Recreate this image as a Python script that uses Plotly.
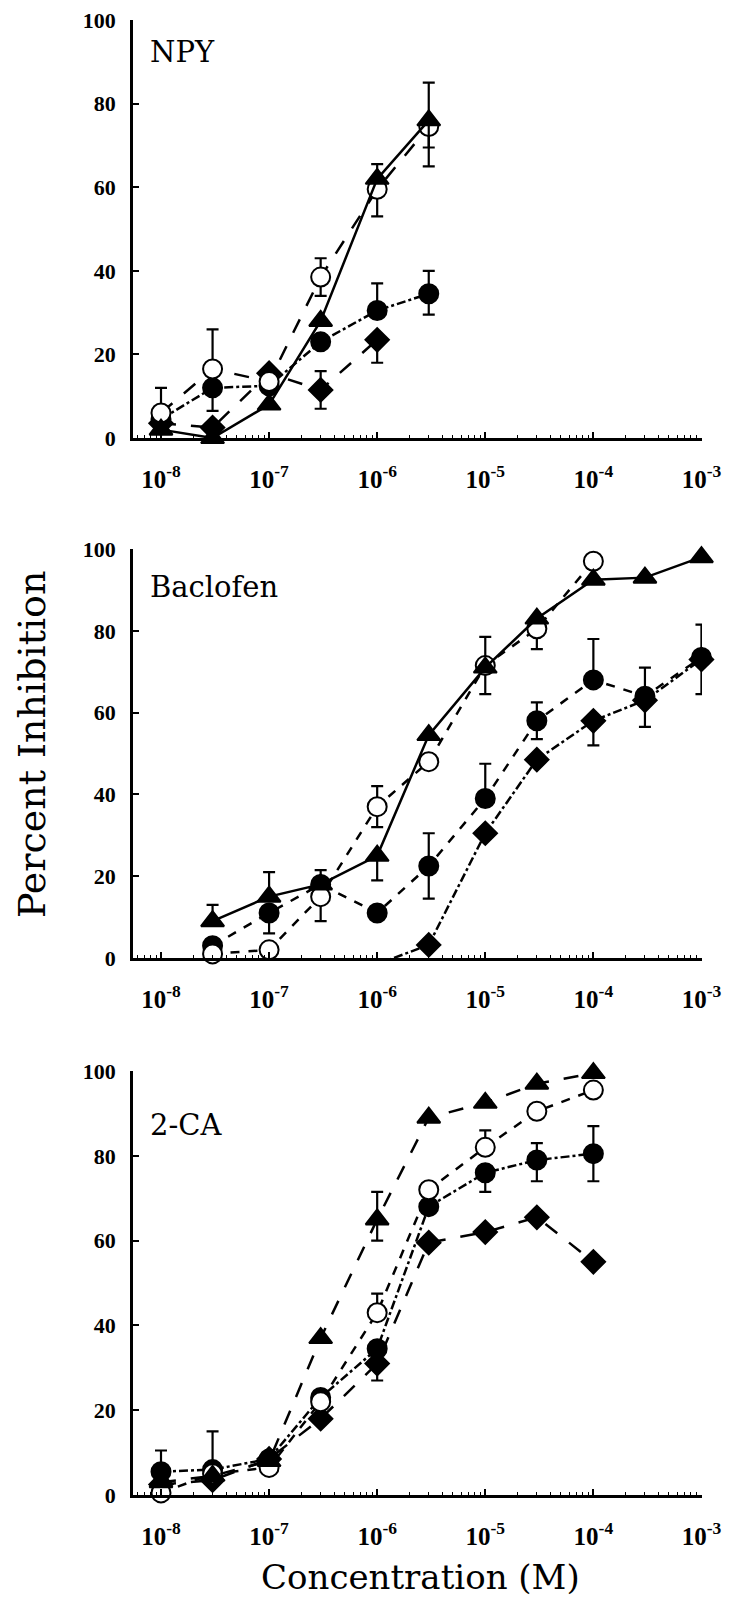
import plotly.graph_objects as go

# ---------------- data ----------------
# Panel 1: NPY
npy_conc = [1e-8, 3e-8, 1e-7, 3e-7, 1e-6, 3e-6]
npy_tri = [2, 0, 8, 28, 62, 76]
npy_tri_up = [0, 0, 0, 0, 3.5, 9]
npy_tri_dn = [0, 0, 0, 0, 0, 11]
npy_open = [6, 16.5, 13.5, 38.5, 59.5, 74.5]
npy_open_up = [6, 9.5, 0, 4.5, 0, 0]
npy_open_dn = [0, 0, 0, 4.5, 6.5, 5]
npy_fill = [4.5, 12, 12.5, 23, 30.5, 34.5]
npy_fill_up = [0, 0, 0, 0, 6.5, 5.5]
npy_fill_dn = [0, 5.5, 0, 0, 0, 5]
npy_diam_conc = [1e-8, 3e-8, 1e-7, 3e-7, 1e-6]
npy_diam = [3.5, 2.5, 15.5, 11.5, 23.5]
npy_diam_up = [0, 0, 0, 4.5, 0]
npy_diam_dn = [0, 0, 0, 4.5, 5.5]

# Panel 2: Baclofen
bac_conc = [3e-8, 1e-7, 3e-7, 1e-6, 3e-6, 1e-5, 3e-5, 1e-4, 3e-4, 1e-3]
bac_tri = [9, 15, 18, 25, 54.5, 71, 83, 92.5, 93, 98]
bac_tri_up = [4, 6, 0, 0, 0, 0, 0, 0, 0, 0]
bac_tri_dn = [0, 0, 0, 6, 0, 0, 0, 0, 0, 0]
bac_open_conc = [3e-8, 1e-7, 3e-7, 1e-6, 3e-6, 1e-5, 3e-5, 1e-4]
bac_open = [1, 2, 15, 37, 48, 71.5, 80.5, 97]
bac_open_up = [0, 0, 0, 5, 0, 7, 0, 0]
bac_open_dn = [0, 0, 6, 5, 0, 7, 5, 0]
bac_fill = [3, 11, 18, 11, 22.5, 39, 58, 68, 64, 73.5]
bac_fill_up = [0, 0, 3.5, 0, 8, 8.5, 4.5, 10, 7, 8]
bac_fill_dn = [0, 5, 0, 0, 8, 0, 4.5, 0, 7.5, 9]
bac_diam_conc = [1e-6, 3e-6, 1e-5, 3e-5, 1e-4, 3e-4, 1e-3]
bac_diam = [-1.5, 3.2, 30.5, 48.5, 58, 63, 73]
bac_diam_up = [0, 0, 0, 0, 0, 0, 0]
bac_diam_dn = [0, 0, 0, 0, 6, 0, 0]

# Panel 3: 2-CA
ca_conc = [1e-8, 3e-8, 1e-7, 3e-7, 1e-6, 3e-6, 1e-5, 3e-5, 1e-4]
ca_tri = [3, 4.5, 8, 37, 65, 89, 92.5, 97, 99.5]
ca_tri_up = [0, 0, 0, 0, 6.5, 0, 0, 0, 0]
ca_tri_dn = [0, 0, 0, 0, 5, 0, 0, 0, 0]
ca_open = [0.5, 5, 6.5, 22, 43, 72, 82, 90.5, 95.5]
ca_open_up = [0, 0, 0, 0, 4.5, 0, 4, 0, 0]
ca_open_dn = [0, 0, 0, 0, 0, 0, 0, 0, 0]
ca_fill = [5.5, 6, 8.5, 23, 34.5, 68, 76, 79, 80.5]
ca_fill_up = [5, 9, 0, 0, 0, 0, 0, 4, 6.5]
ca_fill_dn = [0, 0, 0, 0, 0, 0, 4.5, 5, 6.5]
ca_diam = [2.5, 3.5, 8.5, 18, 31, 59.5, 62, 65.5, 55]
ca_diam_up = [0, 0, 0, 0, 0, 0, 0, 0, 0]
ca_diam_dn = [0, 0, 0, 0, 4, 0, 0, 0, 0]

panel_names = ["NPY", "Baclofen", "2-CA"]
decade_vals = [1e-8, 1e-7, 1e-6, 1e-5, 1e-4, 1e-3]
decade_text = ["<b>10<sup>-8</sup></b>", "<b>10<sup>-7</sup></b>", "<b>10<sup>-6</sup></b>",
               "<b>10<sup>-5</sup></b>", "<b>10<sup>-4</sup></b>", "<b>10<sup>-3</sup></b>"]
y_ticks = [0, 20, 40, 60, 80, 100]
y_text = ["<b>0</b>", "<b>20</b>", "<b>40</b>", "<b>60</b>", "<b>80</b>", "<b>100</b>"]

# ---------------- figure ----------------
W, H = 730, 1602
SERIF = "DejaVu Serif"
TICKFONT = "Liberation Serif"
fig = go.Figure()

# pixel geometry of each panel (top of axis, bottom of axis)
panel_px = [(12, 430), (541, 950), (1063, 1487)]
x_px = (125, 694)


def add_series(n, xs, ys, up, dn, symbol, fill, dash, size):
    xa = "x" if n == 1 else f"x{n}"
    ya = "y" if n == 1 else f"y{n}"
    fig.add_trace(go.Scatter(
        x=xs, y=ys, mode="lines", xaxis=xa, yaxis=ya, cliponaxis=True,
        line=dict(color="black", width=2.5, dash=dash), hoverinfo="skip"))
    ym = [v if v >= 0 else None for v in ys]
    fig.add_trace(go.Scatter(
        x=xs, y=ym, mode="markers", xaxis=xa, yaxis=ya, cliponaxis=False,
        marker=dict(symbol=symbol, size=size, color=fill,
                    line=dict(color="black", width=2)),
        error_y=dict(type="data", symmetric=False, array=up, arrayminus=dn,
                     color="black", thickness=2.2, width=6)))


# Panel 1
add_series(1, npy_diam_conc, npy_diam, npy_diam_up, npy_diam_dn, "diamond", "black", "longdash", 18)
add_series(1, npy_conc, npy_fill, npy_fill_up, npy_fill_dn, "circle", "black", "dashdot", 19)
add_series(1, npy_conc, npy_open, npy_open_up, npy_open_dn, "circle", "white", "longdash", 19)
add_series(1, npy_conc, npy_tri, npy_tri_up, npy_tri_dn, "triangle-up", "black", "solid", 20)

# Panel 2
add_series(2, bac_diam_conc, bac_diam, bac_diam_up, bac_diam_dn, "diamond", "black", "dashdot", 18)
add_series(2, bac_conc, bac_fill, bac_fill_up, bac_fill_dn, "circle", "black", "dash", 19)
add_series(2, bac_open_conc, bac_open, bac_open_up, bac_open_dn, "circle", "white", "dash", 19)
add_series(2, bac_conc, bac_tri, bac_tri_up, bac_tri_dn, "triangle-up", "black", "solid", 20)

# Panel 3
add_series(3, ca_conc, ca_diam, ca_diam_up, ca_diam_dn, "diamond", "black", "longdash", 18)
add_series(3, ca_conc, ca_fill, ca_fill_up, ca_fill_dn, "circle", "black", "dashdot", 19)
add_series(3, ca_conc, ca_open, ca_open_up, ca_open_dn, "circle", "white", "dash", 19)
add_series(3, ca_conc, ca_tri, ca_tri_up, ca_tri_dn, "triangle-up", "black", "longdash", 20)

minor_vals = [k * 10.0 ** e for e in range(-9, -2) for k in range(2, 10)]

xdom = [x_px[0] / W, x_px[1] / W]
layout = dict(width=W, height=H, margin=dict(l=0, r=0, t=0, b=0),
              paper_bgcolor="white", plot_bgcolor="rgba(0,0,0,0)",
              showlegend=False, font=dict(family=SERIF, color="black", size=21))

for i, (top, bot) in enumerate(panel_px, start=1):
    xs = "xaxis" if i == 1 else f"xaxis{i}"
    ys = "yaxis" if i == 1 else f"yaxis{i}"
    ydom = [1 - bot / H, 1 - top / H]
    layout[xs] = dict(
        type="log", range=[-8.259, -2.995], domain=xdom,
        anchor="y" if i == 1 else f"y{i}",
        showline=True, linecolor="black", linewidth=2.5, mirror=False,
        showgrid=False, zeroline=False,
        ticks="inside", ticklen=6, tickwidth=1.5, tickcolor="black",
        tickmode="array", tickvals=decade_vals, ticktext=decade_text,
        minor=dict(ticks="inside", ticklen=3, tickwidth=1.2, tickcolor="black",
                   tickmode="array", tickvals=minor_vals, showgrid=False),
        tickfont=dict(family=TICKFONT, size=25, color="black"),
        ticklabelstandoff=17, ticklabeloverflow="allow", automargin=False)
    layout[ys] = dict(
        range=[0, 100], domain=ydom,
        anchor="x" if i == 1 else f"x{i}",
        showline=True, linecolor="black", linewidth=2.5,
        showgrid=False, zeroline=False,
        ticks="inside", ticklen=6, tickwidth=1.5, tickcolor="black",
        tickmode="array", tickvals=y_ticks, ticktext=y_text,
        tickfont=dict(family=TICKFONT, size=22, color="black"),
        ticklabelstandoff=10, ticklabeloverflow="allow", automargin=False)

annotations = []
label_pos = [(140, 44), (140, 579), (140, 1117)]
for name, (lx, ly) in zip(panel_names, label_pos):
    annotations.append(dict(text=name, x=lx / W, y=1 - ly / H, xref="paper", yref="paper",
                            xanchor="left", yanchor="middle", showarrow=False,
                            font=dict(family=SERIF, size=29, color="black")))
annotations.append(dict(text="Percent Inhibition", x=24 / W, y=1 - 737 / H,
                        xref="paper", yref="paper", textangle=-90,
                        xanchor="center", yanchor="middle", showarrow=False,
                        font=dict(family=SERIF, size=38, color="black")))
annotations.append(dict(text="Concentration (M)", x=412 / W, y=1 - 1569 / H,
                        xref="paper", yref="paper",
                        xanchor="center", yanchor="middle", showarrow=False,
                        font=dict(family=SERIF, size=34, color="black")))
layout["annotations"] = annotations

fig.update_layout(**layout)

fig.write_html("out.html")
